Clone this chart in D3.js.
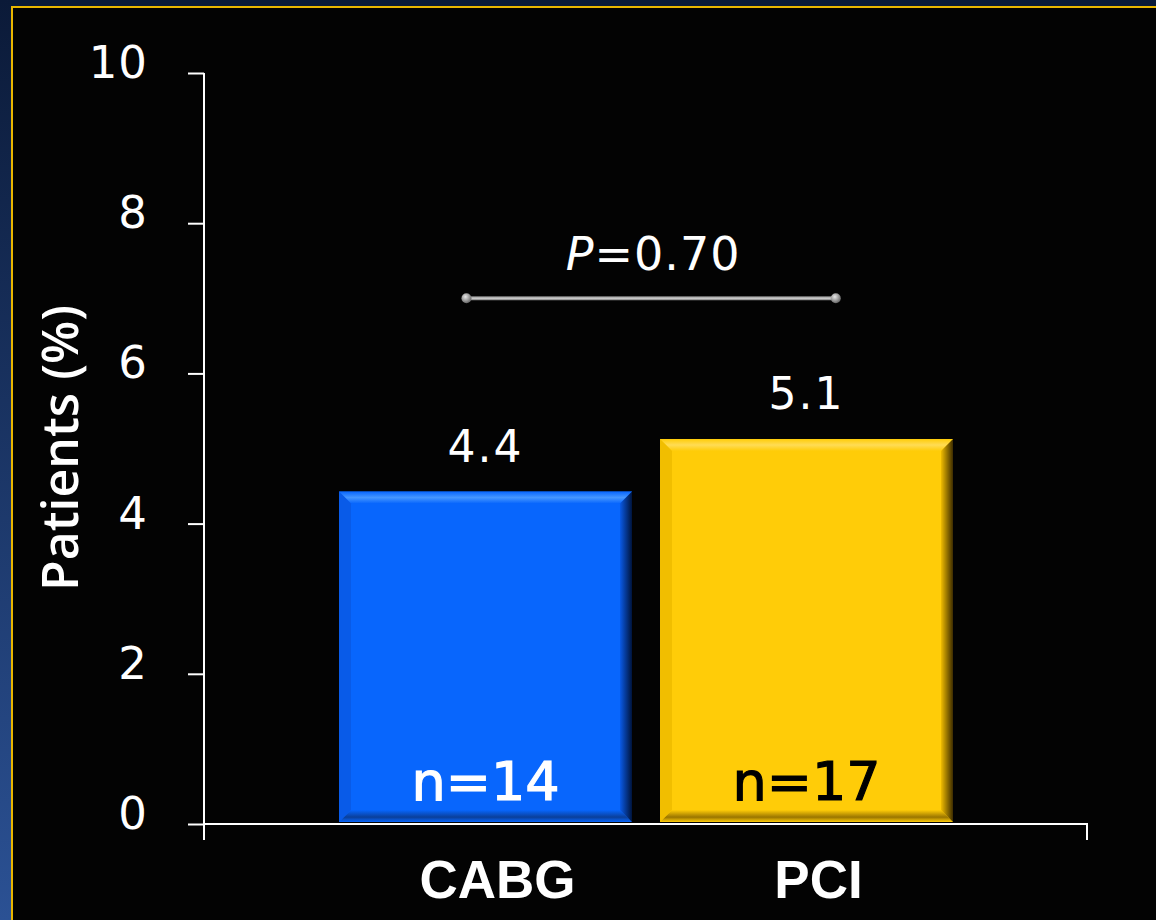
<!DOCTYPE html>
<html>
<head>
<meta charset="utf-8">
<script src="https://cdn.jsdelivr.net/npm/d3@7"></script>
<style>
  html, body { margin: 0; padding: 0; background: #0a1a38; }
  svg { display: block; }
</style>
</head>
<body>
<svg id="chart" width="1156" height="920"></svg>
<script>
// Patients (%) by revascularization strategy
const categories = ["CABG", "PCI"];
const values = [4.4, 5.1];
const counts = ["n=14", "n=17"];
const yTicks = [0, 2, 4, 6, 8, 10];
const pValueText = "0.70";
const pBracketLevel = 7;

const W = 1156, H = 920;
const svg = d3.select("#chart");
const defs = svg.append("defs");

// Slide backdrop: navy strip with a gold frame around the black panel
const sideGrad = defs.append("linearGradient").attr("id", "side").attr("x1", 0).attr("y1", 0).attr("x2", 0).attr("y2", 1);
sideGrad.append("stop").attr("offset", 0).attr("stop-color", "#0b1a38");
sideGrad.append("stop").attr("offset", 1).attr("stop-color", "#2b5194");
svg.append("rect").attr("x", 0).attr("y", 0).attr("width", W).attr("height", H).attr("fill", "#0a1a38");
svg.append("rect").attr("x", 0).attr("y", 0).attr("width", 12).attr("height", H).attr("fill", "url(#side)");
svg.append("rect").attr("x", 11).attr("y", 6).attr("width", W - 11).attr("height", H - 6).attr("fill", "#e9b600");
svg.append("rect").attr("x", 13).attr("y", 8).attr("width", W - 13).attr("height", H - 8).attr("fill", "#030303");

// Scales
const y = d3.scaleLinear().domain([0, 10]).range([824, 73]);
const x = d3.scaleBand().domain(categories).range([325, 967]).paddingInner(28 / 321).paddingOuter(14 / 321);
const xAxisRange = [204, 1087];

// Bar colours: base, bevel light, bevel dark
const palette = {
  CABG: { base: "#0866fd", light: "#4596ff", side: "#0a5ae6", dark: "#00143c", bottom: "#0a3f9a" },
  PCI:  { base: "#ffcc08", light: "#ffdc55", side: "#f0bc00", dark: "#3d2c00", bottom: "#9a7500" }
};

categories.forEach((c, i) => {
  const p = palette[c];
  const g1 = defs.append("linearGradient").attr("id", "r" + i).attr("x1", 0).attr("x2", 1).attr("y1", 0).attr("y2", 0);
  g1.append("stop").attr("offset", 0).attr("stop-color", p.side);
  g1.append("stop").attr("offset", 1).attr("stop-color", p.dark);
  const g2 = defs.append("linearGradient").attr("id", "t" + i).attr("x1", 0).attr("x2", 0).attr("y1", 0).attr("y2", 1);
  g2.append("stop").attr("offset", 0).attr("stop-color", p.base);
  g2.append("stop").attr("offset", 0.5).attr("stop-color", p.light);
  g2.append("stop").attr("offset", 1).attr("stop-color", p.base);
  const g3 = defs.append("linearGradient").attr("id", "b" + i).attr("x1", 0).attr("x2", 0).attr("y1", 0).attr("y2", 1);
  g3.append("stop").attr("offset", 0).attr("stop-color", p.base);
  g3.append("stop").attr("offset", 0.6).attr("stop-color", p.bottom);
  g3.append("stop").attr("offset", 1).attr("stop-color", p.base);
});

const bev = 12;
const bars = svg.append("g");
categories.forEach((c, i) => {
  const x0 = x(c), x1 = x(c) + x.bandwidth();
  const yt = y(values[i]) - 2, yb = y(0) - 2;
  const p = palette[c];
  const g = bars.append("g");
  g.append("rect").attr("x", x0).attr("y", yt).attr("width", x1 - x0).attr("height", yb - yt).attr("fill", p.base);
  // top bevel
  g.append("path").attr("d", `M${x0},${yt}L${x1},${yt}L${x1 - bev},${yt + bev}L${x0 + bev},${yt + bev}Z`).attr("fill", "url(#t" + i + ")");
  // bottom bevel
  g.append("path").attr("d", `M${x0},${yb}L${x1},${yb}L${x1 - bev},${yb - bev}L${x0 + bev},${yb - bev}Z`).attr("fill", "url(#b" + i + ")");
  // left bevel
  g.append("path").attr("d", `M${x0},${yt}L${x0 + bev},${yt + bev}L${x0 + bev},${yb - bev}L${x0},${yb}Z`).attr("fill", p.side).attr("opacity", 0.9);
  // right bevel
  g.append("path").attr("d", `M${x1},${yt}L${x1 - bev},${yt + bev}L${x1 - bev},${yb - bev}L${x1},${yb}Z`).attr("fill", "url(#r" + i + ")");

  // value label above bar
  svg.append("text").attr("x", x0 + x.bandwidth() / 2).attr("y", y(values[i]) - 32)
    .attr("text-anchor", "middle").attr("fill", "#ffffff")
    .style("font-family", "'DejaVu Sans', sans-serif").style("font-size", "44px")
    .style("letter-spacing", "2px")
    .text(values[i].toFixed(1));

  // count inside bar
  const fillC = i === 0 ? "#ffffff" : "#000000";
  svg.append("text").attr("x", x0 + x.bandwidth() / 2).attr("y", 800)
    .attr("text-anchor", "middle").attr("fill", fillC)
    .attr("stroke", fillC).attr("stroke-width", 1.2)
    .style("font-family", "'DejaVu Sans', sans-serif").style("font-size", "54px")
    .text(counts[i]);
});

// Y axis
const yAxis = svg.append("g").attr("transform", "translate(204,0)")
  .call(d3.axisLeft(y).tickValues(yTicks).tickSize(16).tickPadding(40).tickFormat(d3.format("d")));
yAxis.select(".domain").attr("stroke", "#ffffff").attr("stroke-width", 2).attr("d", `M0,${y(10)}V${y(0) + 16}`);
yAxis.selectAll(".tick line").attr("stroke", "#ffffff").attr("stroke-width", 2);
yAxis.selectAll(".tick text").attr("fill", "#ffffff").attr("dy", "0.1em")
  .style("font-family", "'DejaVu Sans', sans-serif").style("font-size", "45px").style("letter-spacing", "1px");

// X axis line with end ticks
svg.append("path")
  .attr("d", `M${xAxisRange[0]},${y(0)}H${xAxisRange[1]}V${y(0) + 16}`)
  .attr("fill", "none").attr("stroke", "#ffffff").attr("stroke-width", 2);

// Category labels
svg.selectAll("text.cat").data(categories).join("text").attr("class", "cat")
  .attr("x", d => x(d) + x.bandwidth() / 2 + 12).attr("y", 898)
  .attr("text-anchor", "middle").attr("fill", "#ffffff")
  .style("font-family", "'Liberation Sans', Arial, sans-serif").style("font-size", "53px").style("font-weight", "bold")
  .text(d => d);

// Y axis title
svg.append("text").attr("transform", `translate(78,448) rotate(-90)`)
  .attr("text-anchor", "middle").attr("fill", "#ffffff")
  .style("font-family", "'Open Sans', sans-serif").style("font-size", "50px").style("font-weight", 600)
  .text("Patients (%)");

// P-value bracket
const knobGrad = defs.append("radialGradient").attr("id", "knob").attr("cx", 0.4).attr("cy", 0.35).attr("r", 0.65);
knobGrad.append("stop").attr("offset", 0).attr("stop-color", "#e8e8e8");
knobGrad.append("stop").attr("offset", 1).attr("stop-color", "#666666");
const lineGrad = defs.append("linearGradient").attr("id", "bar-line").attr("x1", 0).attr("x2", 0).attr("y1", 0).attr("y2", 1);
lineGrad.append("stop").attr("offset", 0).attr("stop-color", "#888888");
lineGrad.append("stop").attr("offset", 0.5).attr("stop-color", "#d0d0d0");
lineGrad.append("stop").attr("offset", 1).attr("stop-color", "#777777");

const px0 = x("CABG") + x.bandwidth() * 0.435;
const px1 = x("PCI") + x.bandwidth() * 0.6;
const py = y(pBracketLevel);
svg.append("rect").attr("x", px0).attr("y", py - 2).attr("width", px1 - px0).attr("height", 4).attr("fill", "url(#bar-line)");
[px0, px1].forEach(px => {
  svg.append("circle").attr("cx", px).attr("cy", py).attr("r", 5).attr("fill", "url(#knob)");
});

const pLabel = svg.append("text").attr("x", (px0 + px1) / 2 + 2).attr("y", 270)
  .attr("text-anchor", "middle").attr("fill", "#ffffff")
  .style("font-family", "'DejaVu Sans', sans-serif").style("font-size", "46px").style("letter-spacing", "1px");
pLabel.append("tspan").style("font-style", "italic").text("P");
pLabel.append("tspan").text("=" + pValueText);
</script>
</body>
</html>
